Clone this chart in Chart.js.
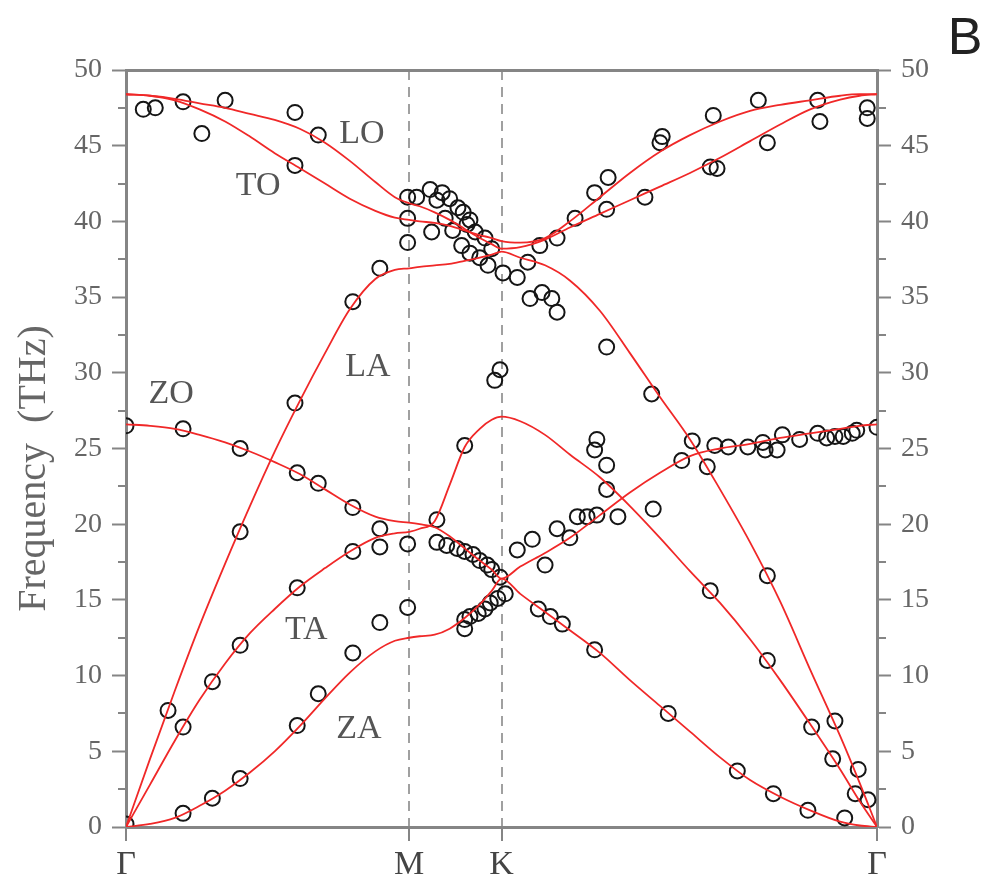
<!DOCTYPE html>
<html>
<head>
<meta charset="utf-8">
<title>Phonon dispersion</title>
<script src="https://cdn.jsdelivr.net/npm/chart.js@4.4.0/dist/chart.umd.min.js"></script>
<style>
    body { margin: 0; background: #fff; }
</style>
</head>
<body>
<canvas id="myChart" width="1000" height="893"></canvas>
<script>
// high symmetry points along the path (normalised path length)
const symmetryPoints = [0, 0.377, 0.5, 1]
const symmetryLabels = ["Γ", "M", "K", "Γ"]
const minorTickValues = [2.5, 7.5, 12.5, 17.5, 22.5, 27.5, 32.5, 37.5, 42.5, 47.5]

// calculated branches, sampled along the path
const kPath = [0, 0.032, 0.065, 0.098, 0.132, 0.165, 0.198, 0.232, 0.265, 0.298, 0.332, 0.358, 0.377,
    0.391, 0.411, 0.431, 0.451, 0.471, 0.487, 0.5,
    0.525, 0.558, 0.591, 0.631, 0.671, 0.711, 0.751, 0.791, 0.831, 0.871, 0.911, 0.951, 0.977, 1]

const branchZA = [0, 0.2, 0.6, 1.4, 2.4, 3.6, 5.0, 6.7, 8.5, 10.2, 11.6, 12.3, 12.5,
    12.6, 12.7, 13.1, 13.8, 14.7, 15.6, 16.4,
    15.4, 14.2, 13.0, 11.5, 9.7, 8.0, 6.3, 4.6, 3.1, 2.0, 1.1, 0.35, 0.1, 0]
const branchTA = [0, 2.8, 5.7, 8.4, 10.8, 12.8, 14.4, 15.9, 17.1, 18.2, 19.1, 19.4, 19.5,
    19.7, 20.2, 22.6, 25.1, 26.3, 26.9, 27.1,
    26.8, 25.9, 24.6, 23.1, 21.2, 19.1, 16.9, 14.8, 12.4, 9.7, 6.8, 3.8, 1.7, 0]
const branchLA = [0, 4.5, 9.0, 13.3, 17.4, 21.2, 24.8, 28.2, 31.3, 34.2, 36.2, 36.8, 36.9,
    37.0, 37.1, 37.2, 37.4, 37.6, 37.8, 38.0,
    37.6, 37.1, 36.1, 34.1, 31.3, 28.4, 25.6, 22.3, 18.8, 14.9, 10.4, 6.0, 2.9, 0]
const branchZO = [26.6, 26.5, 26.3, 25.9, 25.4, 24.8, 24.1, 23.3, 22.3, 21.3, 20.5, 20.2, 20.1,
    20.0, 19.8, 19.2, 18.4, 17.6, 17.0, 16.4,
    17.2, 18.1, 19.1, 20.6, 22.1, 23.4, 24.5, 25.0, 25.3, 25.7, 26.0, 26.3, 26.5, 26.6]
const branchTO = [48.4, 48.3, 48.0, 47.4, 46.6, 45.6, 44.5, 43.5, 42.5, 41.5, 40.7, 40.25, 40.1,
    40.0, 39.9, 39.7, 39.4, 39.1, 38.9, 38.7,
    38.6, 38.9, 40.0, 41.6, 43.2, 44.6, 45.7, 46.6, 47.3, 47.7, 48.0, 48.3, 48.4, 48.4]
const branchLO = [48.4, 48.3, 48.1, 47.8, 47.5, 47.1, 46.7, 46.1, 45.2, 44.0, 42.6, 41.6, 41.2,
    41.0, 40.6, 40.1, 39.5, 38.9, 38.5, 38.2,
    38.3, 38.8, 39.6, 40.5, 41.4, 42.3, 43.2, 44.2, 45.3, 46.4, 47.4, 48.05, 48.3, 48.4]

// measured points (open circles)
const measuredK = [
    0.023, 0.039, 0.076, 0.101, 0.132, 0.225, 0.225, 0.256, 0.338, 0.302, 0.225, 0.152, 0.076, 0,
    0.375, 0.387, 0.375, 0.375, 0.405, 0.414, 0.407, 0.425, 0.431, 0.442, 0.435, 0.449, 0.454, 0.447,
    0.465, 0.458, 0.478, 0.471, 0.487, 0.482, 0.502, 0.521, 0.421, 0.458,
    0.535, 0.551, 0.574, 0.598, 0.624, 0.640, 0.642, 0.691, 0.714, 0.711, 0.782, 0.778, 0.787,
    0.842, 0.854, 0.921, 0.924, 0.987, 0.987, 0.538, 0.554, 0.567, 0.574, 0.640, 0.700, 0.498, 0.491,
    0.228, 0.256, 0.302, 0.338, 0.338, 0.302, 0.375, 0.414, 0.414, 0.427, 0.441, 0.451, 0.462, 0.471,
    0.481, 0.487, 0.498, 0.505, 0.495, 0.485, 0.478, 0.469, 0.458, 0.451, 0.451,
    0.152, 0.228, 0.152, 0.115, 0.076, 0.056, 0.228, 0.256, 0.302, 0.338, 0.375, 0.152, 0.115, 0.076, 0, 0.451,
    0.521, 0.541, 0.558, 0.574, 0.591, 0.601, 0.614, 0.627, 0.655, 0.640, 0.640, 0.624, 0.627,
    0.702, 0.740, 0.774, 0.754, 0.549, 0.565, 0.581, 0.624, 0.722, 0.814, 0.862, 0.908, 0.957,
    0.778, 0.854, 0.854, 0.913, 0.944, 0.941, 0.975, 0.971, 0.988,
    0.784, 0.802, 0.828, 0.848, 0.851, 0.867, 0.874, 0.897, 0.921, 0.933, 0.944, 0.955, 0.967, 0.973, 1
]
const measuredFreq = [
    47.4, 47.5, 47.9, 45.8, 48.0, 47.2, 43.7, 45.7, 36.9, 34.7, 28.0, 25.0, 26.3, 26.5,
    41.6, 41.6, 40.2, 38.6, 42.1, 41.4, 39.3, 40.2, 41.5, 40.9, 39.4, 40.6, 39.8, 38.4,
    39.3, 37.9, 38.9, 37.6, 38.2, 37.1, 36.6, 36.3, 41.9, 40.1,
    37.3, 38.4, 38.9, 40.2, 41.9, 40.8, 42.9, 41.6, 45.6, 45.2, 47.0, 43.6, 43.5,
    48.0, 45.2, 48.0, 46.6, 47.5, 46.8, 34.9, 35.3, 34.9, 34.0, 31.7, 28.6, 30.2, 29.5,
    23.4, 22.7, 21.1, 19.7, 18.5, 18.2, 18.7, 20.3, 18.8, 18.6, 18.4, 18.2, 18.0, 17.6,
    17.3, 17.0, 16.5, 15.4, 15.1, 14.8, 14.4, 14.1, 13.9, 13.1, 13.7,
    19.5, 15.8, 12.0, 9.6, 6.6, 7.7, 6.7, 8.8, 11.5, 13.5, 14.5, 3.2, 1.9, 0.9, 0.2, 25.2,
    18.3, 19.0, 17.3, 19.7, 19.1, 20.5, 20.5, 20.6, 20.5, 22.3, 23.9, 24.9, 25.6,
    21.0, 24.2, 23.8, 25.5, 14.4, 13.9, 13.4, 11.7, 7.5, 3.7, 2.2, 1.1, 0.6,
    15.6, 11.0, 16.6, 6.6, 7.0, 4.5, 3.8, 2.2, 1.8,
    25.2, 25.1, 25.1, 25.4, 24.9, 24.9, 25.9, 25.6, 26.0, 25.7, 25.8, 25.8, 26.0, 26.2, 26.4
]

const branches = [
    { name: "ZA", values: branchZA },
    { name: "TA", values: branchTA },
    { name: "LA", values: branchLA },
    { name: "ZO", values: branchZO },
    { name: "TO", values: branchTO },
    { name: "LO", values: branchLO }
]

// where the branch names are written (path position, THz)
const branchLabels = [
    { text: "LO", k: 0.314, f: 45.8 },
    { text: "TO", k: 0.176, f: 42.3 },
    { text: "LA", k: 0.322, f: 30.4 },
    { text: "ZO", k: 0.060, f: 28.6 },
    { text: "TA", k: 0.240, f: 13.0 },
    { text: "ZA", k: 0.310, f: 6.5 }
]

const axisGray = "#858585"
const serif = "'Liberation Serif', 'Times New Roman', serif"

let datasets = branches.map(b => ({
    type: "line",
    label: b.name,
    data: kPath.map((k, i) => ({ x: k, y: b.values[i] })),
    borderColor: "rgb(240, 40, 40)",
    borderWidth: 1.8,
    pointRadius: 0,
    fill: false,
    cubicInterpolationMode: "monotone"
}))

datasets.push({
    type: "scatter",
    label: "measured",
    data: measuredK.map((k, i) => ({ x: k, y: measuredFreq[i] })),
    pointStyle: "circle",
    pointRadius: 7.5,
    borderWidth: 2,
    borderColor: "#151515",
    backgroundColor: "rgba(0,0,0,0)"
})

// minor ticks on both frequency axes + branch names + panel letter
const extraMarks = {
    id: "extraMarks",
    afterDraw(chart) {
        const ctx = chart.ctx
        const area = chart.chartArea
        const y = chart.scales.y
        const x = chart.scales.x
        ctx.save()
        ctx.strokeStyle = axisGray
        ctx.lineWidth = 2
        for (let v of minorTickValues) {
            let py = Math.round(y.getPixelForValue(v))
            ctx.beginPath()
            ctx.moveTo(area.left - 8, py)
            ctx.lineTo(area.left, py)
            ctx.moveTo(area.right, py)
            ctx.lineTo(area.right + 9, py)
            ctx.stroke()
        }

        ctx.fillStyle = "#555"
        ctx.font = "34px " + serif
        ctx.textAlign = "center"
        ctx.textBaseline = "middle"
        for (let l of branchLabels) {
            ctx.fillText(l.text, x.getPixelForValue(l.k), y.getPixelForValue(l.f))
        }

        ctx.fillStyle = "#222"
        ctx.font = "52px 'Liberation Sans', Arial, sans-serif"
        ctx.fillText("B", 965, 40)
        ctx.restore()
    }
}

const freqAxis = (position) => ({
    type: "linear",
    position: position,
    min: 0,
    max: 50,
    ticks: {
        stepSize: 5,
        padding: 10,
        color: "#666",
        font: { family: serif, size: 28 }
    },
    grid: {
        drawOnChartArea: false,
        drawTicks: true,
        tickLength: 14,
        tickWidth: 2,
        tickColor: axisGray
    },
    border: { display: true, color: axisGray, width: 3 }
})

let leftAxis = freqAxis("left")
leftAxis.title = {
    display: true,
    // trailing spaces push the centred title a little down, as in the figure
    text: "Frequency  (THz)    ",
    color: "#666",
    font: { family: serif, size: 40 },
    padding: { top: 10, bottom: 0 }
}
leftAxis.afterFit = scale => { scale.width = 126 }

let rightAxis = freqAxis("right")
rightAxis.afterFit = scale => { scale.width = 123 }

const ctx = document.getElementById("myChart")

new Chart(ctx, {
    type: "scatter",
    data: { datasets: datasets },
    options: {
        responsive: false,
        animation: false,
        devicePixelRatio: 1,
        layout: { padding: { top: 70, left: 0, right: 0, bottom: 0 } },
        plugins: {
            legend: { display: false },
            tooltip: { enabled: false }
        },
        scales: {
            x: {
                type: "linear",
                position: "bottom",
                min: 0,
                max: 1,
                afterBuildTicks: scale => {
                    scale.ticks = symmetryPoints.map(v => ({ value: v }))
                },
                afterFit: scale => { scale.height = 66 },
                ticks: {
                    autoSkip: false,
                    maxRotation: 0,
                    padding: 4,
                    color: "#444",
                    font: { family: serif, size: 34 },
                    callback: (value, index) => symmetryLabels[index]
                },
                grid: {
                    drawOnChartArea: true,
                    drawTicks: true,
                    tickLength: 14,
                    tickWidth: 2,
                    tickColor: axisGray,
                    lineWidth: 2,
                    color: c => (c.tick && (c.tick.value === 0 || c.tick.value === 1)) ? "rgba(0,0,0,0)" : "#a0a0a0"
                },
                border: { display: true, color: axisGray, width: 3, dash: [10, 7] }
            },
            xTop: {
                type: "linear",
                position: "top",
                min: 0,
                max: 1,
                ticks: { display: false },
                grid: { display: false, drawTicks: false },
                border: { display: true, color: axisGray, width: 3 },
                afterFit: scale => { scale.height = 0 }
            },
            y: leftAxis,
            y2: rightAxis
        }
    },
    plugins: [extraMarks]
})
</script>
</body>
</html>
